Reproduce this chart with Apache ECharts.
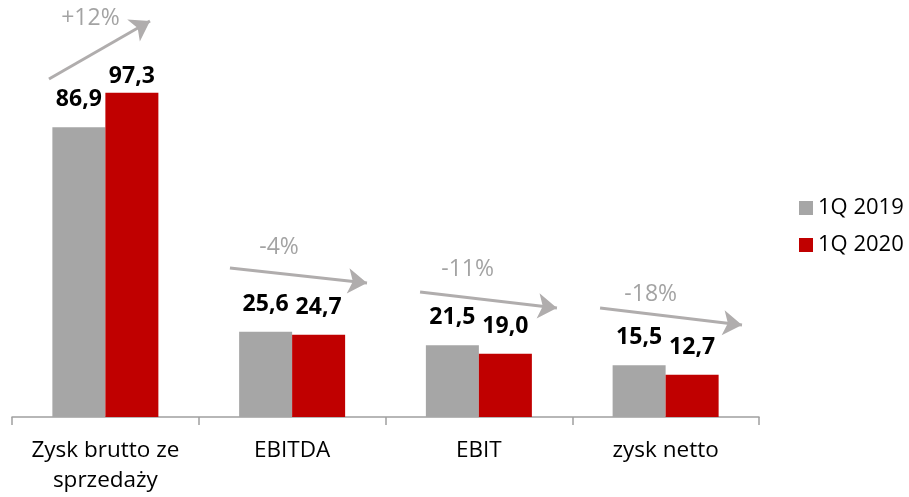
<!DOCTYPE html>
<html>
<head>
<meta charset="utf-8">
<script src="https://cdn.jsdelivr.net/npm/echarts@6/dist/echarts.min.js"></script>
<style>
  html, body { margin: 0; padding: 0; background: #fff; }
  #chart { width: 909px; height: 497px; }
</style>
</head>
<body>
<div id="chart"></div>
<script>
// dane
const categories = ['Zysk brutto ze\nsprzedaży', 'EBITDA', 'EBIT', 'zysk netto'];
const seriesNames = ['1Q 2019', '1Q 2020'];
const values2019 = [86.9, 25.6, 21.5, 15.5];
const values2020 = [97.3, 24.7, 19.0, 12.7];

// strzalki zmian (w jednostkach osi: x = indeks kategorii, y = wartosc)
const changeLabels = ['+12%', '-4%', '-11%', '-18%'];
const changeLabelPos = [[-0.08, 119.7], [0.93, 51.0], [1.94, 44.4], [2.92, 36.9]];
const changeArrows = [
  [[-0.302, 101.4], [0.239, 118.8]],
  [[0.667, 44.7], [1.401, 40.2]],
  [[1.685, 37.5], [2.418, 32.7]],
  [[2.649, 32.7], [3.409, 27.6]]
];

const FONT = '"Open Sans", "Liberation Sans", sans-serif';
const GRAY = '#a6a6a6';
const RED = '#c00000';

let chart = echarts.init(document.getElementById('chart'));

function barLabel(gap) {
  return {
    show: true,
    position: 'top',
    distance: gap,
    color: '#000',
    fontFamily: FONT,
    fontWeight: 'bold',
    fontSize: 23,
    formatter: (p) => p.value.toFixed(1).replace('.', ',')
  };
}

let option = {
  animation: false,
  grid: {
    left: 12,
    right: 150,
    top: 17,
    bottom: 80
  },
  legend: {
    orient: 'vertical',
    left: 794,
    top: 191,
    itemWidth: 14,
    itemHeight: 14,
    itemGap: 13,
    icon: 'rect',
    data: seriesNames,
    textStyle: {
      color: '#000',
      fontFamily: FONT,
      fontSize: 22,
      lineHeight: 24
    }
  },
  xAxis: [
    {
      type: 'category',
      data: categories,
      axisLine: { lineStyle: { color: '#a0a0a0', width: 1.5 } },
      axisTick: { show: true, interval: 0, length: 8, lineStyle: { color: '#a0a0a0', width: 1.5 } },
      axisLabel: {
        interval: 0,
        color: '#000',
        fontFamily: FONT,
        fontSize: 22.5,
        lineHeight: 30,
        margin: 19
      }
    },
    {
      type: 'value',
      min: -0.5,
      max: 3.5,
      show: false
    }
  ],
  yAxis: {
    type: 'value',
    min: 0,
    max: 120,
    show: false,
    splitLine: { show: false }
  },
  series: [
    {
      name: seriesNames[0],
      type: 'bar',
      barWidth: 53,
      barGap: '0%',
      itemStyle: { color: GRAY },
      label: barLabel(16),
      data: values2019
    },
    {
      name: seriesNames[1],
      type: 'bar',
      barWidth: 53,
      barGap: '0%',
      itemStyle: { color: RED },
      label: barLabel(16),
      data: values2020.map((v, i) => i === 0 ? { value: v, label: { distance: 5 } } : v)
    },
    {
      type: 'lines',
      coordinateSystem: 'cartesian2d',
      xAxisIndex: 1,
      yAxisIndex: 0,
      silent: true,
      symbol: ['none', 'arrow'],
      symbolSize: [15, 19],
      lineStyle: { color: '#b0adad', width: 3, opacity: 1, curveness: 0 },
      data: changeArrows.map((c) => ({ coords: c }))
    },
    {
      type: 'scatter',
      xAxisIndex: 1,
      yAxisIndex: 0,
      silent: true,
      symbolSize: 1,
      itemStyle: { color: 'rgba(0,0,0,0)' },
      label: {
        show: true,
        position: 'inside',
        color: '#8c8c8c',
        fontFamily: FONT,
        fontSize: 23,
        formatter: (p) => changeLabels[p.dataIndex]
      },
      data: changeLabelPos
    }
  ]
};
chart.setOption(option);
</script>
</body>
</html>
